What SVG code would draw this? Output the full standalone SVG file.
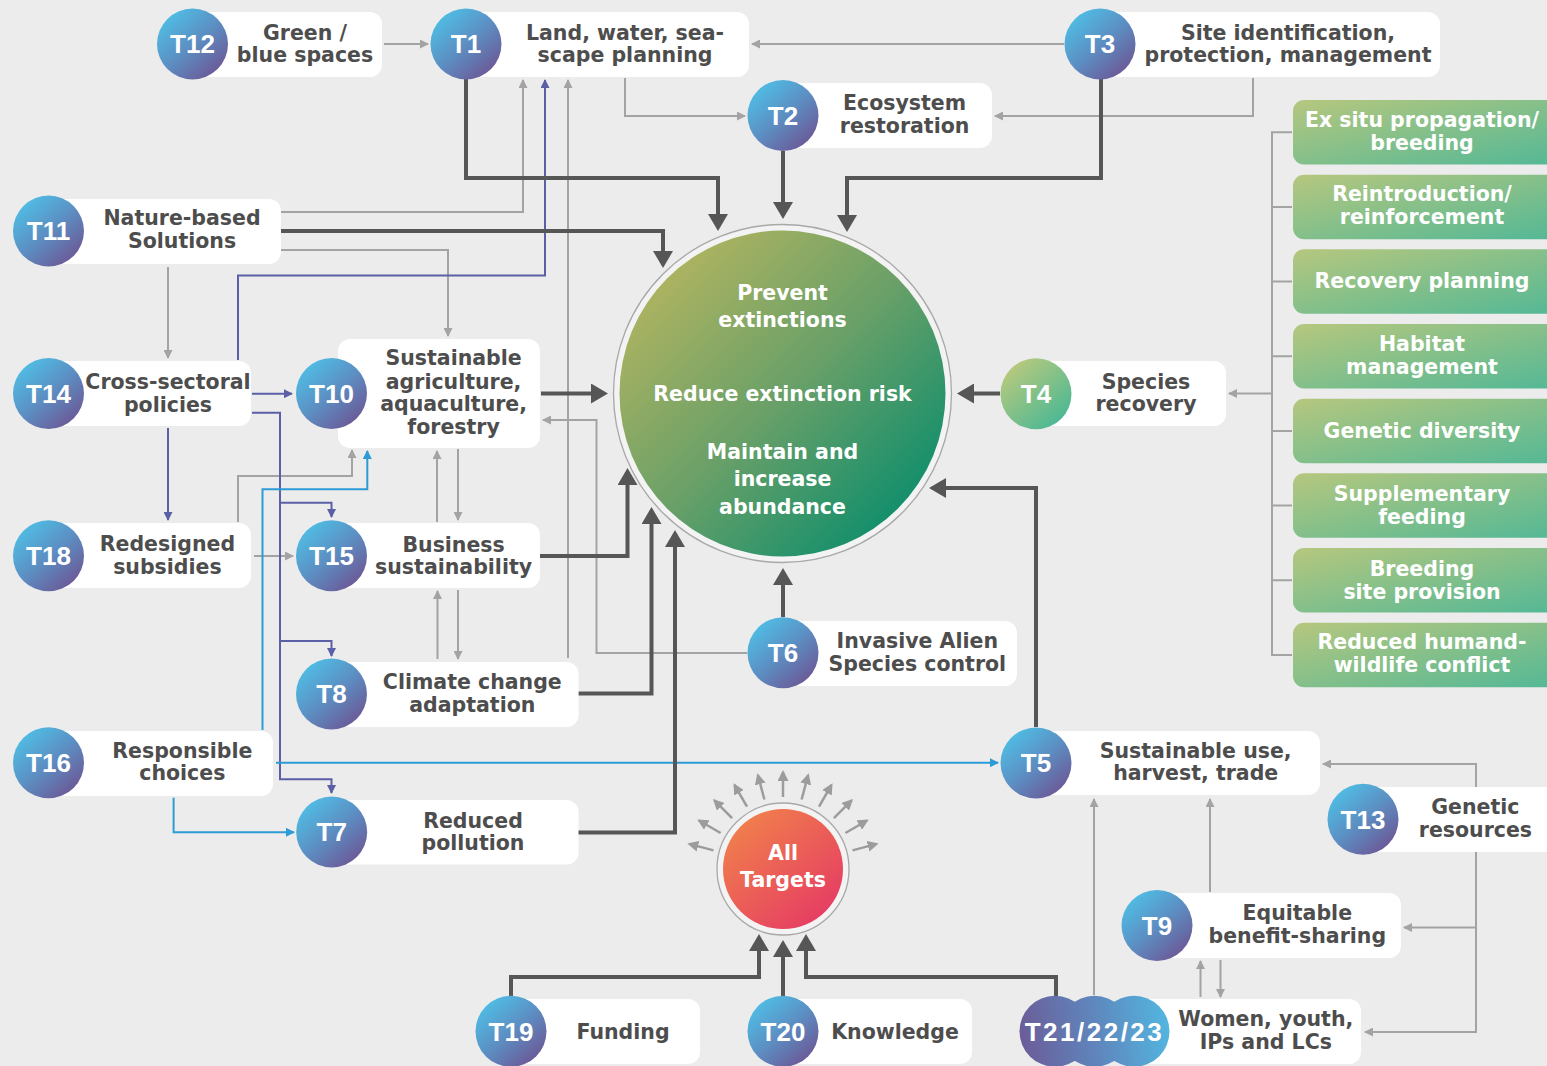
<svg xmlns="http://www.w3.org/2000/svg" width="1547" height="1066" viewBox="0 0 1547 1066">
<style>
.lbl{font-family:"DejaVu Sans","Liberation Sans",sans-serif;font-weight:700;font-size:20.5px;fill:#4d4d4d;text-anchor:middle}
.wt{font-family:"DejaVu Sans","Liberation Sans",sans-serif;font-weight:700;font-size:20.5px;fill:#ffffff;text-anchor:middle}
.tl{font-family:"Liberation Sans",Arial,sans-serif;font-weight:700;font-size:26px;fill:#ffffff;text-anchor:middle}
.box{fill:#ffffff}
.tc{fill:url(#gT)}
.dk{fill:none;stroke:#565656;stroke-width:4;marker-end:url(#ad)}
.gr{fill:none;stroke:#a3a3a3;stroke-width:2;marker-end:url(#ag)}
.gn{fill:none;stroke:#a3a3a3;stroke-width:2}
.in{fill:none;stroke:#5b5fa5;stroke-width:2;marker-end:url(#ai)}
.inn{fill:none;stroke:#5b5fa5;stroke-width:2}
.bl{fill:none;stroke:#2d9bd6;stroke-width:2;marker-end:url(#ab)}
.rd{fill:none;stroke:#9c9c9c;stroke-width:2.5;marker-end:url(#ar)}
.sub{fill:url(#gS)}
</style>
<defs>
<linearGradient id="gT" x1="0.15" y1="0.1" x2="0.85" y2="0.9">
<stop offset="0" stop-color="#4fbde4"/><stop offset="0.5" stop-color="#5c8fc3"/><stop offset="1" stop-color="#6b5997"/>
</linearGradient>
<linearGradient id="g4" x1="0.15" y1="0.1" x2="0.85" y2="0.9">
<stop offset="0" stop-color="#b8c97d"/><stop offset="1" stop-color="#4bb894"/>
</linearGradient>
<linearGradient id="gS" x1="0" y1="0" x2="1" y2="1">
<stop offset="0" stop-color="#b6c77e"/><stop offset="1" stop-color="#52b896"/>
</linearGradient>
<linearGradient id="gC" x1="0.12" y1="0.12" x2="0.88" y2="0.88">
<stop offset="0" stop-color="#b0b460"/><stop offset="0.5" stop-color="#6aa068"/><stop offset="1" stop-color="#0e8e6c"/>
</linearGradient>
<linearGradient id="gA" x1="0.15" y1="0.1" x2="0.85" y2="0.9">
<stop offset="0" stop-color="#f07e4c"/><stop offset="1" stop-color="#e63d63"/>
</linearGradient>
<linearGradient id="gM" gradientUnits="userSpaceOnUse" x1="1020" y1="1040" x2="1170" y2="1020">
<stop offset="0" stop-color="#6b5c98"/><stop offset="0.5" stop-color="#5f86bd"/><stop offset="1" stop-color="#52b7e0"/>
</linearGradient>
<marker id="ad" viewBox="0 0 17 20" refX="13" refY="10" markerWidth="17" markerHeight="20" markerUnits="userSpaceOnUse" orient="auto"><path d="M0,0 L17,10 L0,20 Z" fill="#565656"/></marker>
<marker id="ag" viewBox="0 0 9 9" refX="8" refY="4.5" markerWidth="9" markerHeight="9" markerUnits="userSpaceOnUse" orient="auto"><path d="M0,0 L9,4.5 L0,9 Z" fill="#a3a3a3"/></marker>
<marker id="ai" viewBox="0 0 9 9" refX="8" refY="4.5" markerWidth="9" markerHeight="9" markerUnits="userSpaceOnUse" orient="auto"><path d="M0,0 L9,4.5 L0,9 Z" fill="#5b5fa5"/></marker>
<marker id="ab" viewBox="0 0 9 9" refX="8" refY="4.5" markerWidth="9" markerHeight="9" markerUnits="userSpaceOnUse" orient="auto"><path d="M0,0 L9,4.5 L0,9 Z" fill="#2d9bd6"/></marker>
<marker id="ar" viewBox="0 0 11 11" refX="9" refY="5.5" markerWidth="11" markerHeight="11" markerUnits="userSpaceOnUse" orient="auto"><path d="M0,0 L11,5.5 L0,11 Z" fill="#9c9c9c"/></marker>
</defs>
<rect class="bg" x="0" y="0" width="1547" height="1066" fill="#ececec"/>

<g id="connectors">
<!-- gray -->
<path class="gr" d="M384,44 H428"/>
<path class="gr" d="M1064,44 H752"/>
<path class="gr" d="M625,78 V116 H745"/>
<path class="gr" d="M1253,78 V116 H995"/>
<path class="gr" d="M281,212 H523 V80"/>
<path class="gr" d="M281,250 H448 V336"/>
<path class="gr" d="M168,267 V358"/>
<path class="gr" d="M568,658 V80"/>
<path class="gr" d="M238,522 V476 H352 V450"/>
<path class="gr" d="M254,556 H293"/>
<path class="gr" d="M458,449 V520"/>
<path class="gr" d="M437,522 V451"/>
<path class="gr" d="M458,590 V659"/>
<path class="gr" d="M437.5,659 V591"/>
<path class="gr" d="M747,653 H596.5 V420 H543"/>
<path class="gn" d="M1292,132.3 H1272 V655 H1292 M1272,207 H1292 M1272,281.6 H1292 M1272,356.3 H1292 M1272,431 H1292 M1272,505.6 H1292 M1272,580.3 H1292"/>
<path class="gr" d="M1272,393.5 H1229"/>
<path class="gr" d="M1476,787 V764 H1323"/>
<path class="gr" d="M1476,852 V1032 H1365"/>
<path class="gr" d="M1476,927.5 H1404"/>
<path class="gr" d="M1094,995 V799"/>
<path class="gr" d="M1210,892 V799"/>
<path class="gr" d="M1200.5,997 V961"/>
<path class="gr" d="M1220.5,960 V997"/>
<!-- indigo (T14) -->
<path class="in" d="M238,360 V275.5 H545 V80"/>
<path class="in" d="M252,393.7 H292"/>
<path class="in" d="M252,412.7 H280 V779.3 H331.5 V793"/>
<path class="in" d="M280,502.7 H331.5 V517"/>
<path class="in" d="M280,641 H331.5 V656"/>
<path class="in" d="M168,428 V520"/>
<!-- blue (T16) -->
<path class="bl" d="M262.5,730 V489.3 H367.3 V451"/>
<path class="bl" d="M276,762.7 H998"/>
<path class="bl" d="M173.6,797.7 V832.3 H294"/>
<!-- dark -->
<path class="dk" d="M466,79 V178 H718 V227"/>
<path class="dk" d="M783,151 V215"/>
<path class="dk" d="M1101,79 V178 H847 V228"/>
<path class="dk" d="M281,231 H663 V264"/>
<path class="dk" d="M541,393.5 H604"/>
<path class="dk" d="M1000,393.5 H961"/>
<path class="dk" d="M540,556 H627.5 V472"/>
<path class="dk" d="M578,693.5 H651.5 V511"/>
<path class="dk" d="M578,832.5 H675 V534"/>
<path class="dk" d="M783,617 V572"/>
<path class="dk" d="M1036,727 V488 H933"/>
<path class="dk" d="M511,996 V977 H759 V938"/>
<path class="dk" d="M783,996 V944"/>
<path class="dk" d="M1056,996 V977 H806 V938"/>
<!-- radial from All Targets -->
<path class="rd" d="M713.5,850.4 L689.3,843.9"/>
<path class="rd" d="M720.6,833 L699,820.5"/>
<path class="rd" d="M732.1,818.1 L714.4,800.4"/>
<path class="rd" d="M747,806.6 L734.5,785"/>
<path class="rd" d="M764.4,799.5 L757.9,775.3"/>
<path class="rd" d="M783,797 L783,772"/>
<path class="rd" d="M801.6,799.5 L808.1,775.3"/>
<path class="rd" d="M819,806.6 L831.5,785"/>
<path class="rd" d="M833.9,818.1 L851.6,800.4"/>
<path class="rd" d="M845.4,833 L867,820.5"/>
<path class="rd" d="M852.5,850.4 L876.7,843.9"/>
</g>

<g id="core">
<circle cx="782.5" cy="393.5" r="169" fill="#f3f3f3" stroke="#a8a8a8" stroke-width="1.3"/>
<circle cx="782.5" cy="393.5" r="163" fill="url(#gC)"/>
<text class="wt" x="782.5" y="300">Prevent</text>
<text class="wt" x="782.5" y="327">extinctions</text>
<text class="wt" x="782.5" y="401">Reduce extinction risk</text>
<text class="wt" x="782.5" y="459">Maintain and</text>
<text class="wt" x="782.5" y="486">increase</text>
<text class="wt" x="782.5" y="514">abundance</text>
</g>

<g id="alltargets">
<circle cx="783" cy="869" r="66" fill="#f3f3f3" stroke="#a8a8a8" stroke-width="1.3"/>
<circle cx="783" cy="869" r="60" fill="url(#gA)"/>
<text class="wt" x="783" y="860">All</text>
<text class="wt" x="783" y="887">Targets</text>
</g>

<g id="T12"><rect class="box" x="192" y="12" width="190" height="65" rx="12"/><circle class="tc" cx="192.5" cy="44" r="35.5"/><text class="tl" x="192.5" y="53.3">T12</text><text class="lbl" x="305" y="39.5">Green /</text><text class="lbl" x="305" y="62">blue spaces</text></g>
<g id="T1"><rect class="box" x="466" y="12" width="283" height="65" rx="12"/><circle class="tc" cx="466" cy="44" r="35.5"/><text class="tl" x="466" y="53.3">T1</text><text class="lbl" x="625" y="39.5">Land, water, sea-</text><text class="lbl" x="625" y="62">scape planning</text></g>
<g id="T3"><rect class="box" x="1100" y="12" width="340" height="65" rx="12"/><circle class="tc" cx="1100" cy="44" r="35.5"/><text class="tl" x="1100" y="53.3">T3</text><text class="lbl" x="1288" y="39.5">Site identification,</text><text class="lbl" x="1288" y="62">protection, management</text></g>
<g id="T2"><rect class="box" x="783" y="83" width="209" height="65" rx="12"/><circle class="tc" cx="783" cy="115.5" r="35.5"/><text class="tl" x="783" y="124.8">T2</text><text class="lbl" x="904.6" y="110">Ecosystem</text><text class="lbl" x="904.6" y="133">restoration</text></g>
<g id="T11"><rect class="box" x="48" y="199" width="233" height="65" rx="12"/><circle class="tc" cx="48.5" cy="231" r="35.5"/><text class="tl" x="48.5" y="240.3">T11</text><text class="lbl" x="182" y="225">Nature-based</text><text class="lbl" x="182" y="248">Solutions</text></g>
<g id="T14"><rect class="box" x="48" y="361" width="203" height="65" rx="12"/><circle class="tc" cx="48.5" cy="393.5" r="35.5"/><text class="tl" x="48.5" y="402.8">T14</text><text class="lbl" x="168" y="389">Cross-sectoral</text><text class="lbl" x="168" y="411.5">policies</text></g>
<g id="T10"><rect class="box" x="338" y="339" width="202" height="109" rx="12"/><circle class="tc" cx="331.5" cy="393.5" r="35.5"/><text class="tl" x="331.5" y="402.8">T10</text><text class="lbl" x="453.6" y="365">Sustainable</text><text class="lbl" x="453.6" y="388.5">agriculture,</text><text class="lbl" x="453.6" y="411">aquaculture,</text><text class="lbl" x="453.6" y="434">forestry</text></g>
<g id="T18"><rect class="box" x="48" y="523" width="203" height="65" rx="12"/><circle class="tc" cx="48.5" cy="555.8" r="35.5"/><text class="tl" x="48.5" y="565.1">T18</text><text class="lbl" x="167.4" y="550.5">Redesigned</text><text class="lbl" x="167.4" y="573.5">subsidies</text></g>
<g id="T15"><rect class="box" x="331" y="523" width="209" height="65" rx="12"/><circle class="tc" cx="331.5" cy="555.8" r="35.5"/><text class="tl" x="331.5" y="565.1">T15</text><text class="lbl" x="453.6" y="552">Business</text><text class="lbl" x="453.6" y="574">sustainability</text></g>
<g id="T8"><rect class="box" x="331" y="662" width="247.6" height="65" rx="12"/><circle class="tc" cx="331.5" cy="694" r="35.5"/><text class="tl" x="331.5" y="703.3">T8</text><text class="lbl" x="472.3" y="688.7">Climate change</text><text class="lbl" x="472.3" y="711.5">adaptation</text></g>
<g id="T16"><rect class="box" x="48" y="731" width="225" height="65" rx="12"/><circle class="tc" cx="48.5" cy="762.8" r="35.5"/><text class="tl" x="48.5" y="772.1">T16</text><text class="lbl" x="182.3" y="757.7">Responsible</text><text class="lbl" x="182.3" y="780">choices</text></g>
<g id="T7"><rect class="box" x="331" y="800" width="247.5" height="64.5" rx="12"/><circle class="tc" cx="331.7" cy="832" r="35.5"/><text class="tl" x="331.7" y="841.3">T7</text><text class="lbl" x="473" y="827.7">Reduced</text><text class="lbl" x="473" y="850">pollution</text></g>
<g id="T19"><rect class="box" x="511" y="999" width="189" height="65" rx="12"/><circle class="tc" cx="511" cy="1031.3" r="35.5"/><text class="tl" x="511" y="1040.6">T19</text><text class="lbl" x="623" y="1039">Funding</text></g>
<g id="T20"><rect class="box" x="783" y="999" width="189" height="65" rx="12"/><circle class="tc" cx="783" cy="1031.3" r="35.5"/><text class="tl" x="783" y="1040.6">T20</text><text class="lbl" x="895" y="1038.5">Knowledge</text></g>
<g id="T21-22-23"><rect class="box" x="1134" y="999" width="227" height="65" rx="12"/><circle cx="1134" cy="1031.3" r="35.5" fill="url(#gM)"/><circle cx="1094.5" cy="1031.3" r="35.5" fill="url(#gM)"/><circle cx="1055" cy="1031.3" r="35.5" fill="url(#gM)"/><text class="tl" x="1094.5" y="1040.6" style="letter-spacing:2.5px">T21/22/23</text><text class="lbl" x="1265.8" y="1026">Women, youth,</text><text class="lbl" x="1265.8" y="1048.7">IPs and LCs</text></g>
<g id="T5"><rect class="box" x="1036" y="731" width="284" height="64" rx="12"/><circle class="tc" cx="1036" cy="763" r="35.5"/><text class="tl" x="1036" y="772.3">T5</text><text class="lbl" x="1195.7" y="757.7">Sustainable use,</text><text class="lbl" x="1195.7" y="780">harvest, trade</text></g>
<g id="T13"><rect class="box" x="1363" y="787" width="200" height="65" rx="12"/><circle class="tc" cx="1363" cy="819.3" r="35.5"/><text class="tl" x="1363" y="828.6">T13</text><text class="lbl" x="1475.4" y="814.3">Genetic</text><text class="lbl" x="1475.4" y="836.5">resources</text></g>
<g id="T9"><rect class="box" x="1157" y="893" width="244" height="65" rx="12"/><circle class="tc" cx="1157" cy="925.5" r="35.5"/><text class="tl" x="1157" y="934.8">T9</text><text class="lbl" x="1297.3" y="919.7">Equitable</text><text class="lbl" x="1297.3" y="943">benefit-sharing</text></g>
<g id="T6"><rect class="box" x="783" y="621" width="234" height="65" rx="12"/><circle class="tc" cx="783" cy="652.8" r="35.5"/><text class="tl" x="783" y="662.1">T6</text><text class="lbl" x="917.3" y="647.7">Invasive Alien</text><text class="lbl" x="917.3" y="670.5">Species control</text></g>
<g id="T4"><rect class="box" x="1036" y="361" width="190" height="65" rx="12"/><circle cx="1036" cy="393.8" r="35.5" fill="url(#g4)"/><text class="tl" x="1036" y="403.1">T4</text><text class="lbl" x="1146" y="388.7">Species</text><text class="lbl" x="1146" y="410.5">recovery</text></g>

<g id="subtargets">
<rect class="sub" x="1293" y="100" width="270" height="64.5" rx="11"/><text class="wt" x="1422" y="127">Ex situ propagation/</text><text class="wt" x="1422" y="150.3">breeding</text>
<rect class="sub" x="1293" y="174.7" width="270" height="64.5" rx="11"/><text class="wt" x="1422" y="201.3">Reintroduction/</text><text class="wt" x="1422" y="223.7">reinforcement</text>
<rect class="sub" x="1293" y="249.3" width="270" height="64.5" rx="11"/><text class="wt" x="1422" y="287.5">Recovery planning</text>
<rect class="sub" x="1293" y="324" width="270" height="64.5" rx="11"/><text class="wt" x="1422" y="351">Habitat</text><text class="wt" x="1422" y="374">management</text>
<rect class="sub" x="1293" y="398.7" width="270" height="64.5" rx="11"/><text class="wt" x="1422" y="437.5">Genetic diversity</text>
<rect class="sub" x="1293" y="473.3" width="270" height="64.5" rx="11"/><text class="wt" x="1422" y="501">Supplementary</text><text class="wt" x="1422" y="523.7">feeding</text>
<rect class="sub" x="1293" y="548" width="270" height="64.5" rx="11"/><text class="wt" x="1422" y="575.7">Breeding</text><text class="wt" x="1422" y="598.7">site provision</text>
<rect class="sub" x="1293" y="622.7" width="270" height="64.5" rx="11"/><text class="wt" x="1422" y="649.3">Reduced humand-</text><text class="wt" x="1422" y="672">wildlife conflict</text>
</g>
</svg>
